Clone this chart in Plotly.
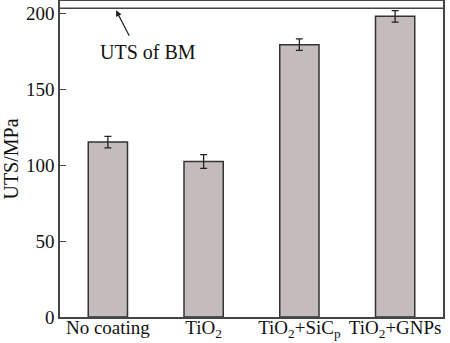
import plotly.graph_objects as go

categories = ["No coating", "TiO<sub>2</sub>", "TiO<sub>2</sub>+SiC<sub>p</sub>", "TiO<sub>2</sub>+GNPs"]
uts_values = [115.3, 102.5, 179.5, 198.2]
uts_errors = [3.8, 4.5, 3.8, 3.8]
bm_uts = 203.5
y_ticks = [0, 50, 100, 150, 200]

font_family = "Liberation Serif, Times New Roman, serif"

fig = go.Figure()
fig.add_trace(go.Bar(
    x=categories,
    y=uts_values,
    error_y=dict(type="data", array=uts_errors, color="#222222", thickness=1.3, width=3.5),
    marker=dict(color="#c4bcbc", line=dict(color="#333333", width=1.5)),
    width=0.41,
))

fig.add_shape(type="line", xref="paper", x0=0, x1=1, yref="y", y0=bm_uts, y1=bm_uts,
              line=dict(color="#444444", width=1.5))

fig.add_annotation(x=0.085, y=bm_uts - 1.3, xref="x", yref="y", text="", showarrow=True,
                   ax=14, ay=27, arrowhead=2, arrowsize=1, arrowwidth=1.2, arrowcolor="#222222")
fig.add_annotation(x=0.42, y=175, xref="x", yref="y", text="UTS of BM", showarrow=False,
                   font=dict(family=font_family, size=20, color="#111111"))

fig.update_layout(
    width=450, height=343,
    margin=dict(l=60, r=7, t=1, b=26),
    paper_bgcolor="white", plot_bgcolor="white",
    showlegend=False,
    font=dict(family=font_family, size=19, color="#111111"),
)
fig.update_xaxes(showline=True, linecolor="#444444", linewidth=1.5, mirror=True,
                 ticks="", showgrid=False, tickfont=dict(size=19), automargin=False,
                 ticklabelstandoff=-8)
fig.update_yaxes(range=[0, 208.3], showline=True, linecolor="#444444", linewidth=1.5, mirror=True,
                 ticks="inside", ticklen=6, tickcolor="#444444", tickvals=y_ticks,
                 showgrid=False, zeroline=False, tickfont=dict(size=19), automargin=False,
                 title=dict(text="UTS/MPa", font=dict(size=20), standoff=4))

fig.write_html("out.html")
